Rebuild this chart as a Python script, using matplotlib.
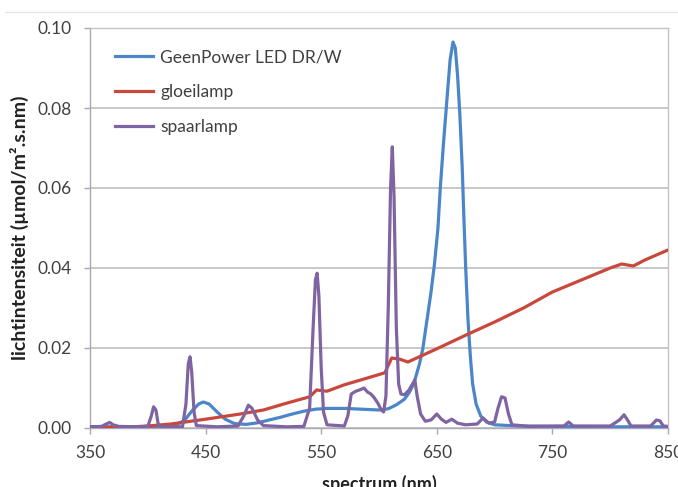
import matplotlib
matplotlib.use("Agg")
import matplotlib.pyplot as plt
from matplotlib.lines import Line2D

# ---- data ----
led_nm = [350, 380, 410, 425, 432, 438, 444, 448, 453, 460, 467, 475, 485, 495, 505, 515,
          525, 535, 545, 555, 570, 585, 600, 608, 615, 622, 626, 630, 635, 638, 642, 645,
          648, 651, 653, 656, 659, 661.5, 664, 666, 668, 670, 672, 673.5, 675, 677, 679,
          681, 684, 688, 693, 700, 720, 760, 800, 850]
led_val = [0.0003, 0.0003, 0.0004, 0.0008, 0.0020, 0.0042, 0.0060, 0.0065, 0.0060, 0.0040,
           0.0022, 0.0011, 0.0009, 0.0013, 0.0020, 0.0027, 0.0035, 0.0042, 0.0047, 0.0049,
           0.0049, 0.0047, 0.0045, 0.0048, 0.0058, 0.0072, 0.0088, 0.0110, 0.0160, 0.0200,
           0.0280, 0.0340, 0.0410, 0.0500, 0.0600, 0.0720, 0.0830, 0.0920, 0.0965, 0.0950,
           0.0880, 0.0780, 0.0650, 0.0520, 0.0400, 0.0270, 0.0180, 0.0110, 0.0060, 0.0030,
           0.0015, 0.0008, 0.0005, 0.0004, 0.0003, 0.0003]

gloei_nm = [350, 380, 400, 420, 450, 480, 500, 520, 540, 546, 555, 570, 590, 605, 611, 618,
            625, 650, 675, 700, 725, 750, 775, 800, 810, 820, 830, 850]
gloei_val = [0.0002, 0.0002, 0.0005, 0.0010, 0.0022, 0.0035, 0.0045, 0.0062, 0.0078, 0.0095,
             0.0092, 0.0108, 0.0125, 0.0138, 0.0175, 0.0172, 0.0165, 0.0198, 0.0232, 0.0265,
             0.0300, 0.0340, 0.0370, 0.0400, 0.0410, 0.0405, 0.0420, 0.0445]

spaar_nm = [350, 360, 364, 367, 370, 375, 390, 400, 403, 405, 407, 409, 412, 430, 433, 435,
            436.5, 438, 440, 442, 460, 478, 483, 487, 490, 495, 500, 520, 535, 540, 543, 545,
            546.5, 548, 550, 552, 555, 570, 573, 576, 580, 584, 587, 590, 593, 596, 599, 602,
            604, 606, 608, 610, 611.5, 613, 615, 617, 619, 622, 626, 629, 631, 633, 636, 640,
            645, 650, 654, 658, 663, 668, 675, 685, 690, 695, 700, 703, 706, 709, 712, 715,
            730, 760, 764, 768, 800, 808, 812, 815, 818, 835, 840, 843, 846, 850]
spaar_val = [0.0003, 0.0004, 0.0010, 0.0014, 0.0008, 0.0004, 0.0003, 0.0004, 0.0030, 0.0053,
             0.0045, 0.0010, 0.0003, 0.0003, 0.0060, 0.0160, 0.0178, 0.0140, 0.0040, 0.0006,
             0.0003, 0.0005, 0.0030, 0.0057, 0.0050, 0.0020, 0.0006, 0.0003, 0.0004, 0.0050,
             0.0250, 0.0370, 0.0387, 0.0330, 0.0150, 0.0040, 0.0008, 0.0005, 0.0030, 0.0085,
             0.0092, 0.0096, 0.0100, 0.0090, 0.0085, 0.0075, 0.0062, 0.0045, 0.0040, 0.0080,
             0.0300, 0.0600, 0.0703, 0.0580, 0.0250, 0.0110, 0.0085, 0.0083, 0.0095, 0.0110,
             0.0120, 0.0080, 0.0035, 0.0017, 0.0020, 0.0035, 0.0022, 0.0014, 0.0022, 0.0012,
             0.0008, 0.0010, 0.0025, 0.0012, 0.0015, 0.0050, 0.0078, 0.0075, 0.0035, 0.0008,
             0.0004, 0.0005, 0.0015, 0.0005, 0.0005, 0.0020, 0.0033, 0.0020, 0.0005, 0.0005,
             0.0020, 0.0018, 0.0005, 0.0004]

series_labels = ["GeenPower LED DR/W", "gloeilamp", "spaarlamp"]
x_ticks = [350, 450, 550, 650, 750, 850]
y_ticks = [0.00, 0.02, 0.04, 0.06, 0.08, 0.10]
x_label = "spectrum (nm)"
y_label = "lichtintensiteit (µmol/m².s.nm)"

# ---- figure ----
plt.rcParams['font.family'] = ['Lato', 'DejaVu Sans']
W, H = 678, 487
fig = plt.figure(figsize=(W / 100, H / 100), dpi=100)
ax = fig.add_axes([90 / W, 59 / H, 578 / W, 400 / H])

colors = ['#4a86c8', '#c9483b', '#8064a2']
lw = 2.3
ax.plot(led_nm, led_val, color=colors[0], lw=lw, label=series_labels[0], zorder=3,
        solid_joinstyle='round')
ax.plot(gloei_nm, gloei_val, color=colors[1], lw=lw, label=series_labels[1], zorder=4,
        solid_joinstyle='round')
ax.plot(spaar_nm, spaar_val, color=colors[2], lw=lw, label=series_labels[2], zorder=5,
        solid_joinstyle='round')

ax.set_xlim(350, 850)
ax.set_ylim(0, 0.10)
ax.set_xticks(x_ticks)
ax.set_yticks(y_ticks)
ax.set_yticklabels([f"{v:.2f}" for v in y_ticks])

ax.yaxis.grid(True, color='#c4c4c4', lw=1.3)
ax.set_axisbelow(True)
for s in ax.spines.values():
    s.set_color('#c4c4c4')
    s.set_linewidth(1.0)
ax.spines['left'].set_color('#a8a8b8')
ax.spines['bottom'].set_color('#a8a8b8')

ax.tick_params(axis='both', colors='#a8a8b8', length=4, width=1.0, labelsize=12.5,
               labelcolor='#404040')
ax.tick_params(axis='y', pad=9)
ax.tick_params(axis='x', pad=8)

ax.set_xlabel(x_label, fontsize=13, fontweight='bold', color='#222222')
ax.set_ylabel(y_label, fontsize=14, fontweight='bold', color='#222222')
ax.xaxis.set_label_coords(0.5, -0.118)
ax.yaxis.set_label_coords(-0.105, 0.5)

leg = ax.legend(loc='upper left', bbox_to_anchor=((115 - 90) / 578, (428 - 49) / 400),
                frameon=False, fontsize=12.5, handlelength=2.2, handletextpad=0.4,
                labelspacing=1.1, borderpad=0, borderaxespad=0)
for t in leg.get_texts():
    t.set_color('#404040')

fig.add_artist(Line2D([5 / W, 1], [1 - 12 / H, 1 - 12 / H], color='#e6e6e6', lw=1.0))

fig.savefig("out.png", dpi=100)
